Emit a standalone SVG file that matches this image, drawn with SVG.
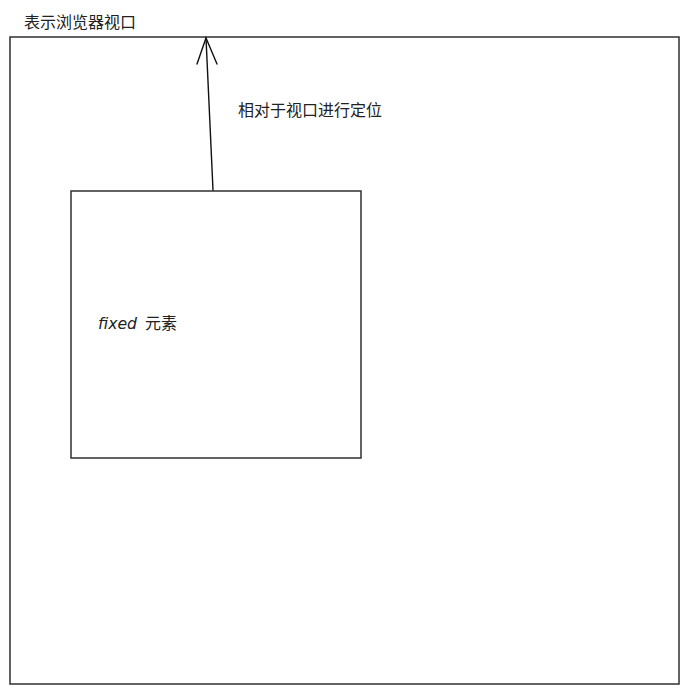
<svg xmlns="http://www.w3.org/2000/svg" width="689" height="694" viewBox="0 0 689 694">
<style>
.box{fill:#fff;stroke:#3c3c3c;stroke-width:1.6}
.t{font-family:"Noto Sans CJK SC","Liberation Sans",sans-serif;font-size:16px;fill:#222}
.h{font-family:"DejaVu Sans",cursive;font-style:italic;font-size:16px;fill:#222}
.ln{fill:none;stroke:#111;stroke-width:1.4;stroke-linecap:round}
</style>
<rect width="689" height="694" fill="#fff"/>
<g id="viewport">
<rect class="box" x="10" y="37" width="669" height="647"/>
<text class="t" x="24" y="28">表示浏览器视口</text>
</g>
<g id="fixed">
<rect class="box" x="71" y="191" width="290" height="267"/>
<text class="h" x="98" y="329" textLength="39" lengthAdjust="spacingAndGlyphs">fixed</text>
<text class="t" x="145" y="329">元素</text>
</g>
<g id="connectors">
<path class="ln" d="M213 190 L206 38"/>
<path class="ln" d="M197 64 L206 38 L217 64"/>
<text class="t" x="238" y="116">相对于视口进行定位</text>
</g>
</svg>
